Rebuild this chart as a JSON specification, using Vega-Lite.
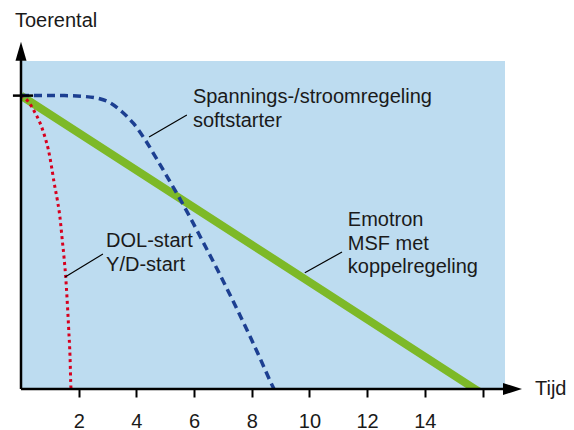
{
  "$schema": "https://vega.github.io/schema/vega-lite/v6.json",
  "width": 484,
  "height": 328,
  "autosize": {"type": "none"},
  "padding": {"left": 21, "top": 61, "right": 69, "bottom": 41},
  "background": "white",
  "config": {"view": {"fill": "#bddcf0", "stroke": null}, "font": "Liberation Sans"},
  "datasets": {
    "green": [{"t": 0, "v": 1}, {"t": 15.74, "v": 0}, {"t": 16.0, "v": -0.016}],
    "blue": [
      {"t": 0, "v": 1.0}, {"t": 1.5, "v": 1.0}, {"t": 2.2, "v": 0.997}, {"t": 2.7, "v": 0.99},
      {"t": 3.1, "v": 0.975}, {"t": 3.5, "v": 0.945}, {"t": 3.9, "v": 0.905}, {"t": 4.3, "v": 0.85},
      {"t": 4.7, "v": 0.785}, {"t": 5.1, "v": 0.718}, {"t": 5.5, "v": 0.65}, {"t": 5.9, "v": 0.578},
      {"t": 6.3, "v": 0.503}, {"t": 6.7, "v": 0.428}, {"t": 7.1, "v": 0.35}, {"t": 7.5, "v": 0.27},
      {"t": 7.9, "v": 0.188}, {"t": 8.3, "v": 0.102}, {"t": 8.72, "v": 0.01}, {"t": 8.77, "v": 0}
    ],
    "red": [
      {"t": 0, "v": 1.0}, {"t": 0.25, "v": 0.98}, {"t": 0.49, "v": 0.941}, {"t": 0.66, "v": 0.907},
      {"t": 0.83, "v": 0.859}, {"t": 0.95, "v": 0.815}, {"t": 1.06, "v": 0.757}, {"t": 1.15, "v": 0.702},
      {"t": 1.26, "v": 0.644}, {"t": 1.35, "v": 0.586}, {"t": 1.42, "v": 0.518}, {"t": 1.49, "v": 0.45},
      {"t": 1.55, "v": 0.382}, {"t": 1.6, "v": 0.303}, {"t": 1.65, "v": 0.211}, {"t": 1.7, "v": 0.109},
      {"t": 1.73, "v": 0.007}, {"t": 1.74, "v": 0}
    ],
    "leaders": [
      {"t": 4.44, "v": 0.859, "t2": 5.75, "v2": 0.934},
      {"t": 1.53, "v": 0.382, "t2": 2.84, "v2": 0.46},
      {"t": 9.84, "v": 0.396, "t2": 11.13, "v2": 0.467}
    ],
    "labels": [
      {"t": 5.96, "v": 0.975, "text": "Spannings-/stroomregeling"},
      {"t": 5.96, "v": 0.893, "text": "softstarter"},
      {"t": 2.95, "v": 0.485, "text": "DOL-start"},
      {"t": 2.95, "v": 0.403, "text": "Y/D-start"},
      {"t": 11.33, "v": 0.556, "text": "Emotron"},
      {"t": 11.33, "v": 0.474, "text": "MSF met"},
      {"t": 11.33, "v": 0.397, "text": "koppelregeling"},
      {"t": -0.21, "v": 1.234, "text": "Toerental"},
      {"t": 17.82, "v": -0.022, "text": "Tijd"}
    ],
    "axislines": [
      {"t": 0, "v": 0, "t2": 17.0, "v2": 0},
      {"t": 0, "v": 0, "t2": 0, "v2": 1.15},
      {"t": -0.28, "v": 1, "t2": 0.42, "v2": 1}
    ],
    "arrows": [
      {"t": 0, "v": 1.151, "dir": "up"},
      {"t": 17.04, "v": 0, "dir": "right"}
    ]
  },
  "encoding": {
    "x": {"field": "t", "type": "quantitative",
      "scale": {"domain": [0, 16.78], "nice": false, "zero": false},
      "axis": {"values": [2, 4, 6, 8, 10, 12, 14, 16], "title": null, "grid": false, "domain": false,
        "tickColor": "black", "tickWidth": 2, "tickSize": 8,
        "labelExpr": "datum.value == 16 ? '' : datum.label",
        "labelFontSize": 20, "labelColor": "#1a1a1a", "labelFont": "Liberation Sans",
        "labelBaseline": "alphabetic", "labelPadding": 30}},
    "y": {"field": "v", "type": "quantitative",
      "scale": {"domain": [0, 1.118], "nice": false, "zero": false},
      "axis": null}
  },
  "layer": [
    {"data": {"name": "green"}, "mark": {"type": "line", "color": "#7db928", "strokeWidth": 8, "clip": true, "strokeCap": "butt"}},
    {"data": {"name": "red"}, "mark": {"type": "line", "color": "#d7001e", "strokeWidth": 3, "strokeDash": [3, 3.5], "interpolate": "monotone", "clip": true}},
    {"data": {"name": "blue"}, "mark": {"type": "line", "color": "#1c3f91", "strokeWidth": 3.5, "strokeDash": [8, 5], "interpolate": "monotone", "clip": true}},
    {"data": {"name": "leaders"}, "mark": {"type": "rule", "color": "black", "strokeWidth": 1.2},
      "encoding": {"x2": {"field": "t2"}, "y2": {"field": "v2"}}},
    {"data": {"name": "axislines"}, "mark": {"type": "rule", "color": "black", "strokeWidth": 2.5, "clip": false},
      "encoding": {"x2": {"field": "t2"}, "y2": {"field": "v2"}}},
    {"data": {"name": "arrows"}, "mark": {"type": "point", "filled": true, "color": "black", "opacity": 1, "size": 361, "clip": false},
      "encoding": {"shape": {"field": "dir", "type": "nominal",
        "scale": {"domain": ["up", "right"], "range": ["M0,-1L0.58,1L-0.58,1Z", "M1,0L-1,0.63L-1,-0.63Z"]},
        "legend": null}}},
    {"data": {"name": "labels"}, "mark": {"type": "text", "align": "left", "baseline": "alphabetic", "fontSize": 20, "color": "#1a1a1a", "font": "Liberation Sans", "clip": false},
      "encoding": {"text": {"field": "text"}}}
  ]
}
